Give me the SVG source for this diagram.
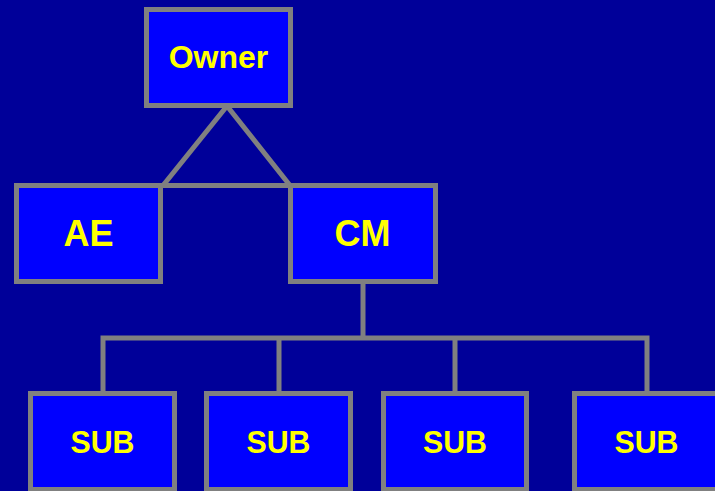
<svg xmlns="http://www.w3.org/2000/svg" width="715" height="491" viewBox="0 0 715 491">
<style>
.box{fill:#0000FF;stroke:#808080;stroke-width:5}
.ln{fill:none;stroke:#808080;stroke-width:5}
.t{font-family:"Liberation Sans",Arial,sans-serif;font-weight:bold;fill:#FFFF00;text-anchor:middle}
.s{font-size:32px}
</style>
<rect width="715" height="491" fill="#000099"/>
<g id="connectors">
<polyline class="ln" points="163,185.5 227,106 290,185.5"/>
<line class="ln" x1="160" y1="185.5" x2="291" y2="185.5"/>
<line class="ln" x1="363" y1="283" x2="363" y2="338"/>
<polyline class="ln" points="103,393 103,338 647,338 647,393"/>
<line class="ln" x1="279" y1="338" x2="279" y2="393"/>
<line class="ln" x1="455" y1="338" x2="455" y2="393"/>
</g>
<g id="owner"><rect class="box" x="146.5" y="9.5" width="144" height="96"/><text class="t" x="218.5" y="68" font-size="32">Owner</text></g>
<g id="ae"><rect class="box" x="16.5" y="185.5" width="144" height="96"/><text class="t" x="88.5" y="246" font-size="36">AE</text></g>
<g id="cm"><rect class="box" x="290.5" y="185.5" width="145" height="96"/><text class="t" x="362.5" y="246" font-size="36">CM</text></g>
<g id="sub1"><rect class="box" x="30.5" y="393.5" width="144" height="96"/><text class="t s" x="102.5" y="453" textLength="64" lengthAdjust="spacingAndGlyphs">SUB</text></g>
<g id="sub2"><rect class="box" x="206.5" y="393.5" width="144" height="96"/><text class="t s" x="278.5" y="453" textLength="64" lengthAdjust="spacingAndGlyphs">SUB</text></g>
<g id="sub3"><rect class="box" x="383.5" y="393.5" width="143" height="96"/><text class="t s" x="455" y="453" textLength="64" lengthAdjust="spacingAndGlyphs">SUB</text></g>
<g id="sub4"><rect class="box" x="574.5" y="393.5" width="144" height="96"/><text class="t s" x="646.5" y="453" textLength="64" lengthAdjust="spacingAndGlyphs">SUB</text></g>
</svg>
